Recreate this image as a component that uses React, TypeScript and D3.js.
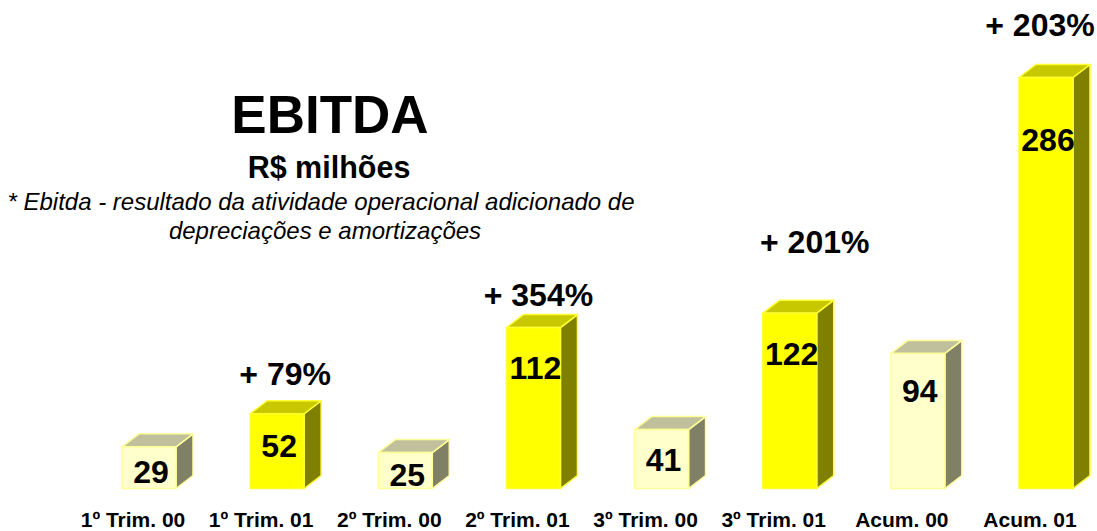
import { useEffect, useRef } from 'react'
import * as d3 from 'd3'

const W = 1097, H = 531
const FONT = 'Liberation Sans, Arial, sans-serif'

const CATEGORIES = ['1º Trim. 00', '1º Trim. 01', '2º Trim. 00', '2º Trim. 01', '3º Trim. 00', '3º Trim. 01', 'Acum. 00', 'Acum. 01']
const VALUES = [29, 52, 25, 112, 41, 122, 94, 286]
const IS_CURRENT = [false, true, false, true, false, true, false, true]

// growth annotations: category, text, vertical anchor in data units, horizontal nudge
const GROWTH_CATS = ['1º Trim. 01', '2º Trim. 01', '3º Trim. 01', 'Acum. 01']
const GROWTH_TEXT = ['+ 79%', '+ 354%', '+ 201%', '+ 203%']
const GROWTH_AT = [72, 127, 164, 315]
const GROWTH_DX = [8, 5, 25, -6]

const PALETTE = {
  cur:  { front: '#FFFF00', top: '#C8C800', side: '#808000', edge: '#FFFF33' },
  prev: { front: '#FFFFCC', top: '#C0C09C', side: '#808066', edge: '#FFFF99' },
}

export default function App() {
  const svgRef = useRef<SVGSVGElement>(null)

  useEffect(() => {
    const svg = d3.select(svgRef.current!)
    svg.selectAll('*').remove()

    const base = 488.5
    const x = d3.scalePoint<string>().domain(CATEGORIES).range([149, 1046])
    const y = d3.scaleLinear().domain([0, 300]).range([base, base - 300 * 1.437])
    const bw = 54, dx = 17, dy = 13

    const g = svg.append('g')

    // ── bars ──────────────────────────────────────────────────────────────
    CATEGORIES.forEach((c, i) => {
      const col = IS_CURRENT[i] ? PALETTE.cur : PALETTE.prev
      const x0 = x(c)! - bw / 2, x1 = x0 + bw
      const yt = y(VALUES[i])
      const bar = g.append('g')

      bar.append('path')
        .attr('d', `M${x1},${base}L${x1},${yt}L${x1 + dx},${yt - dy}L${x1 + dx},${base - dy}Z`)
        .attr('fill', col.side).attr('stroke', col.edge).attr('stroke-width', 1.5).attr('stroke-linejoin', 'round')
      bar.append('path')
        .attr('d', `M${x0},${yt}L${x0 + dx},${yt - dy}L${x1 + dx},${yt - dy}L${x1},${yt}Z`)
        .attr('fill', col.top).attr('stroke', col.edge).attr('stroke-width', 1.5).attr('stroke-linejoin', 'round')
      bar.append('rect')
        .attr('x', x0).attr('y', yt).attr('width', bw).attr('height', base - yt)
        .attr('fill', col.front).attr('stroke', col.edge).attr('stroke-width', 1.5)

      const h = base - yt
      const off = Math.min(25 + 0.09 * h, h / 2 + 4)
      bar.append('text')
        .attr('x', x(c)! + 2).attr('y', yt + off).attr('dy', '0.36em')
        .attr('text-anchor', 'middle').attr('font-family', FONT).attr('font-weight', 'bold')
        .attr('font-size', 32).attr('fill', '#000')
        .text(VALUES[i])
    })

    // ── category labels ───────────────────────────────────────────────────
    g.selectAll('text.cat')
      .data(CATEGORIES)
      .join('text').attr('class', 'cat')
      .attr('x', d => x(d)! - 16).attr('y', 527)
      .attr('text-anchor', 'middle').attr('font-family', FONT).attr('font-weight', 'bold')
      .attr('font-size', 21).attr('fill', '#000')
      .text(d => d)

    // ── growth annotations ────────────────────────────────────────────────
    GROWTH_CATS.forEach((c, i) => {
      g.append('text')
        .attr('x', x(c)! + GROWTH_DX[i]).attr('y', y(GROWTH_AT[i]))
        .attr('text-anchor', 'middle').attr('font-family', FONT).attr('font-weight', 'bold')
        .attr('font-size', 32).attr('fill', '#000')
        .text(GROWTH_TEXT[i])
    })

    // ── titles ────────────────────────────────────────────────────────────
    g.append('text')
      .attr('x', 330).attr('y', 133).attr('text-anchor', 'middle')
      .attr('font-family', FONT).attr('font-weight', 'bold').attr('font-size', 53)
      .text('EBITDA')
    g.append('text')
      .attr('x', 329).attr('y', 178).attr('text-anchor', 'middle')
      .attr('font-family', FONT).attr('font-weight', 'bold').attr('font-size', 30.5)
      .text('R$ milhões')
    g.append('text')
      .attr('x', 321).attr('y', 210).attr('text-anchor', 'middle')
      .attr('font-family', FONT).attr('font-style', 'italic').attr('font-size', 24)
      .text('* Ebitda - resultado da atividade operacional adicionado de')
    g.append('text')
      .attr('x', 325).attr('y', 239).attr('text-anchor', 'middle')
      .attr('font-family', FONT).attr('font-style', 'italic').attr('font-size', 24)
      .text('depreciações e amortizações')
  }, [])

  return (
    <svg
      ref={svgRef}
      width={W}
      height={H}
      viewBox={`0 0 ${W} ${H}`}
      style={{ position: 'absolute', left: 0, top: 0, background: '#fff' }}
    />
  )
}
